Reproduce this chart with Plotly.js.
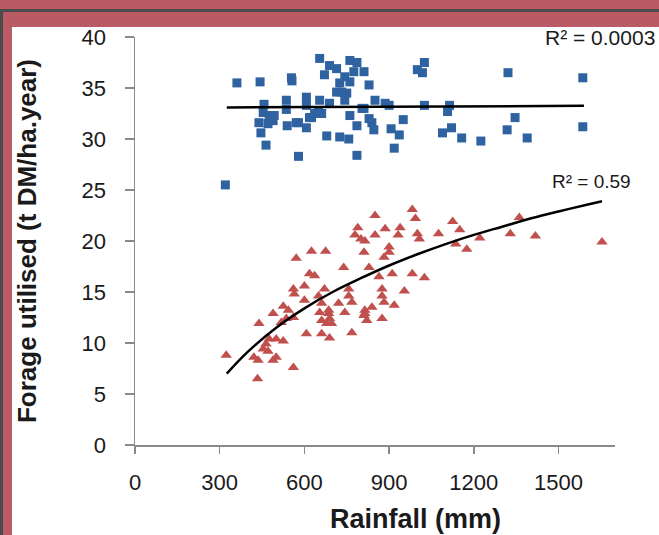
<!DOCTYPE html>
<html>
<head>
<meta charset="utf-8">
<script src="https://cdn.plot.ly/plotly-3.0.1.min.js"></script>
<style>
  html, body { margin:0; padding:0; }
  body { width:659px; height:535px; background:#b95a65; position:relative; overflow:hidden; }
  #frame { position:absolute; left:0; top:9px; width:659px; height:526px;
           border-top:3px solid #4b4b4b; border-left:3px solid #4b4b4b; box-sizing:border-box; }
  #paper { position:absolute; left:12px; top:27px; width:647px; height:508px; background:#ffffff; }
  #chart { position:absolute; left:0; top:0; width:659px; height:535px; }
</style>
</head>
<body>
<div id="frame"></div>
<div id="paper"></div>
<div id="chart"></div>
<script>
// Blue squares: rainfall (mm) vs forage utilised (t DM/ha.year)
const blueRain = [320,361,443,554,556,654,689,714,671,761,786,775,811,743,761,725,829,714,750,743,732,654,689,850,886,900,1025,811,661,761,829,839,786,846,950,907,936,679,725,757,918,786,457,536,536,607,607,454,475,489,439,471,446,464,579,539,571,607,625,650,1000,1018,1025,1321,1586,1107,1114,1089,1121,1157,1225,1346,1318,1389,1586,493,636,579,618,804];
const blueForage = [25.5,35.5,35.6,36.0,35.7,37.9,37.2,36.9,36.3,37.7,37.5,36.6,36.6,36.1,35.6,35.5,35.3,34.6,34.5,33.8,34.6,33.8,33.5,33.8,33.5,33.3,33.3,33.0,32.5,32.3,32.0,31.6,31.3,30.9,31.9,31.0,30.4,30.3,30.2,30.0,29.1,28.4,33.4,33.8,32.9,34.1,33.3,32.6,32.3,31.8,31.6,31.5,30.6,29.4,28.3,31.3,31.6,31.1,32.1,32.6,36.8,36.5,37.5,36.5,36.0,32.7,33.3,30.6,31.1,30.1,29.8,32.1,30.9,30.1,31.2,32.3,32.5,31.6,32.1,33.0];

// Red triangles
const redRain = [850,789,886,779,800,814,850,932,900,900,811,625,675,571,882,739,829,618,636,864,911,561,564,600,671,650,757,757,768,875,875,882,918,525,543,489,600,661,686,721,743,814,839,439,518,536,561,607,475,500,525,464,454,471,323,421,436,500,489,561,434,982,993,939,1000,1007,982,1025,954,811,875,654,686,689,679,1125,1150,1361,1075,1221,1329,1418,1136,1175,1654,661,689,768,661,696,814,821];
const redForage = [22.5,21.3,21.2,20.6,20.2,20.0,20.6,20.6,19.4,18.9,18.9,19.0,19.0,18.3,18.4,17.4,17.4,16.8,16.6,16.5,16.8,15.3,14.8,15.6,15.3,14.6,15.3,14.6,14.0,15.3,14.6,14.0,13.7,13.6,13.2,12.9,14.2,13.9,13.2,13.9,13.0,13.2,13.5,11.9,12.0,12.4,12.5,10.9,10.4,10.4,10.2,9.9,9.4,9.2,8.8,8.6,8.3,8.6,8.3,7.6,6.5,23.1,22.2,21.3,20.7,20.2,16.8,16.4,15.1,12.7,12.4,13.0,12.9,12.4,11.9,21.9,21.1,22.3,20.7,20.3,20.7,20.5,19.7,19.2,19.9,10.9,10.5,11.0,12.2,11.9,12.9,12.2];

// Trend lines
const blueTrendX = [325, 1590];
const blueTrendY = [33.1, 33.25];
const redTrendX = [325, 400, 500, 600, 700, 800, 900, 1000, 1100, 1200, 1300, 1400, 1500, 1600, 1654];
const redTrendY = [7.0, 9.15, 11.5, 13.4, 15.0, 16.35, 17.6, 18.7, 19.7, 20.6, 21.4, 22.2, 22.9, 23.55, 23.9];

// Labels
const xTicks = [0, 300, 600, 900, 1200, 1500];
const yTicks = [0, 5, 10, 15, 20, 25, 30, 35, 40];
const r2Labels = ["R² = 0.0003", "R² = 0.59"];
const xTitle = "Rainfall (mm)";
const yTitle = "Forage utilised (t DM/ha.year)";

const FONT = "Liberation Sans, Arial, sans-serif";

const traces = [
  { x: blueRain, y: blueForage, type: "scatter", mode: "markers",
    marker: { symbol: "square", size: 9, color: "#2f62a0" }, hoverinfo: "none" },
  { x: redRain, y: redForage, type: "scatter", mode: "markers",
    marker: { symbol: "triangle-up", size: 10, color: "#c0504d" }, hoverinfo: "none" },
  { x: blueTrendX, y: blueTrendY, type: "scatter", mode: "lines",
    line: { color: "#000000", width: 2.5 }, hoverinfo: "none" },
  { x: redTrendX, y: redTrendY, type: "scatter", mode: "lines",
    line: { color: "#000000", width: 2.5, shape: "spline" }, hoverinfo: "none" }
];

const layout = {
  width: 659, height: 535,
  paper_bgcolor: "rgba(0,0,0,0)",
  plot_bgcolor: "rgba(0,0,0,0)",
  showlegend: false,
  margin: { l: 135, r: 44, t: 37, b: 90 },
  font: { family: FONT, color: "#1a1a1a" },
  xaxis: {
    range: [0, 1700], tickvals: xTicks, ticktext: xTicks.map(String),
    showgrid: false, zeroline: false, showline: true, linecolor: "#8a8a8a", linewidth: 1.5,
    ticks: "outside", ticklen: 7, tickcolor: "#8a8a8a", tickwidth: 1.5,
    tickfont: { size: 22, family: FONT, color: "#1a1a1a" }, ticklabelstandoff: 10
  },
  yaxis: {
    range: [0, 40], tickvals: yTicks, ticktext: yTicks.map(String),
    showgrid: false, zeroline: false, showline: true, linecolor: "#8a8a8a", linewidth: 1.5,
    ticks: "outside", ticklen: 9, tickcolor: "#8a8a8a", tickwidth: 1.5,
    tickfont: { size: 22, family: FONT, color: "#1a1a1a" }, ticklabelstandoff: 14,
    title: { text: "<b>" + yTitle + "</b>", font: { size: 26, family: FONT, color: "#1a1a1a" }, standoff: 37 }
  },
  annotations: [
    { text: r2Labels[0], xref: "paper", yref: "paper", x: (543 - 135) / 480, y: 1.0, xanchor: "left", yanchor: "middle",
      showarrow: false, font: { size: 21, family: FONT, color: "#1a1a1a" } },
    { text: r2Labels[1], x: (550 - 135) / 0.2824, y: (444 - 181) / 10.18, xanchor: "left", yanchor: "middle",
      showarrow: false, font: { size: 19, family: FONT, color: "#1a1a1a" } },
    { text: "<b>" + xTitle + "</b>", xref: "paper", yref: "paper", x: (415 - 135) / 480, y: -0.182, xanchor: "center", yanchor: "middle",
      showarrow: false, font: { size: 27, family: FONT, color: "#1a1a1a" } }
  ]
};

Plotly.newPlot("chart", traces, layout, { displayModeBar: false, staticPlot: true });
</script>
</body>
</html>
